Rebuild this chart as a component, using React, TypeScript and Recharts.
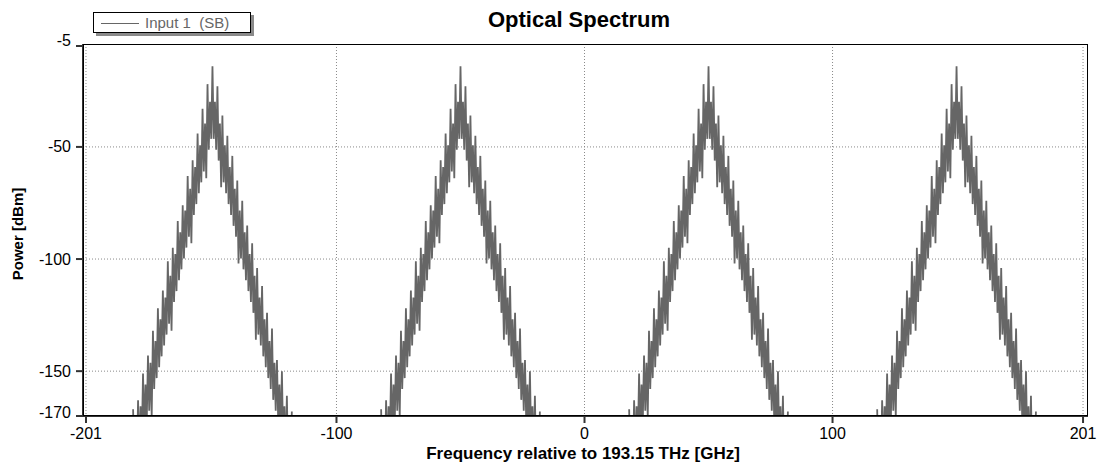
import React from 'react';
import { LineChart, Line, XAxis, YAxis, CartesianGrid } from 'recharts';

const FONT = '"Liberation Sans", Arial, sans-serif';

// channel centre frequencies (GHz, relative to 193.15 THz)
const peakCenters = [-150, -50, 50, 150];

// frequency offsets from each centre (GHz)
const peakOffsets = [
  -32, -31.5, -31, -30.5, -30, -29.5, -29, -28.5, -28, -27.5, -27, -26.5, -26, -25.5, -25, -24.5,
  -24, -23.5, -23, -22.5, -22, -21.5, -21, -20.5, -20, -19.5, -19, -18.5, -18, -17.5, -17, -16.5,
  -16, -15.5, -15, -14.5, -14, -13.5, -13, -12.5, -12, -11.5, -11, -10.5, -10, -9.5, -9, -8.5,
  -8, -7.5, -7, -6.5, -6, -5.5, -5, -4.5, -4, -3.5, -3, -2.5, -2, -1.5, -1, -0.5,
  0,
  0.5, 1, 1.5, 2, 2.5, 3, 3.5, 4, 4.5, 5, 5.5, 6, 6.5, 7, 7.5, 8,
  8.5, 9, 9.5, 10, 10.5, 11, 11.5, 12, 12.5, 13, 13.5, 14, 14.5, 15, 15.5, 16,
  16.5, 17, 17.5, 18, 18.5, 19, 19.5, 20, 20.5, 21, 21.5, 22, 22.5, 23, 23.5, 24,
  24.5, 25, 25.5, 26, 26.5, 27, 27.5, 28, 28.5, 29, 29.5, 30, 30.5, 31, 31.5, 32,
];

const peakPower = [
  -167, -196.8, -175.4, -191.9, -163, -187.1, -165.7, -182.2, -151, -177.4, -156, -172.5, -143, -167.7, -146.3, -170,
  -132, -158, -136.6, -153.1, -122, -148.3, -126.9, -143.4, -114, -138.6, -117.2, -133.7, -101, -128.9, -107.5, -132,
  -95, -119.2, -97.8, -114.3, -83, -109.5, -88.1, -104.6, -76, -99.8, -78.4, -94.9, -63, -90.1, -68.7, -93,
  -56, -80.4, -59, -75.5, -44, -70.7, -49.3, -65.8, -33, -61, -39.6, -64, -22, -51.3, -29.9, -46.4,
  -14,
  -46.4, -29.9, -51.3, -23, -56.1, -39.6, -68, -36, -65.8, -49.3, -70.7, -45, -75.5, -59, -80.4, -54,
  -85.2, -68.7, -90.1, -65, -102, -78.4, -99.8, -74, -104.6, -88.1, -109.5, -85, -114.3, -97.8, -119.2, -93,
  -124, -107.5, -136, -104, -133.7, -117.2, -138.6, -112, -143.4, -126.9, -148.3, -124, -153.1, -136.6, -158, -131,
  -162.8, -146.3, -167.7, -145, -172.5, -156, -177.4, -150, -182.2, -165.7, -187.1, -161, -191.9, -175.4, -196.8, -168,
];

const xTicks = [-201, -100, 0, 100, 201];
const yTicks = [-5, -50, -100, -150, -170];

const data: { f: number; p: number | null }[] = [];
peakCenters.forEach((c) => {
  peakOffsets.forEach((o, i) => data.push({ f: c + o, p: peakPower[i] }));
  data.push({ f: c + 40, p: null });
});

const YTick = (props: any) => {
  const { x, y, payload } = props;
  const nudge = payload.value === -5 ? -6 : payload.value === -170 ? -4 : 0;
  return (
    <text x={x} y={y + nudge} textAnchor="end" dominantBaseline="central" fill="#000" fontSize={16} fontFamily={FONT}>
      {payload.value}
    </text>
  );
};

export default function App() {
  return (
    <div style={{ position: 'absolute', left: 0, top: 0, width: 1100, height: 463, background: '#fff', fontFamily: FONT }}>
      <LineChart width={1100} height={463} data={data} margin={{ top: 44, right: 12, bottom: 17, left: 20 }}>
        <CartesianGrid stroke="#8a8a8a" strokeDasharray="1 2" horizontalValues={[-50, -100, -150]} verticalValues={xTicks} />
        <XAxis
          dataKey="f"
          type="number"
          domain={[-202.2, 203]}
          ticks={xTicks}
          allowDataOverflow
          height={30}
          tickSize={7}
          tickMargin={5}
          stroke="#333"
          strokeWidth={2}
          tick={{ fill: '#000', fontSize: 16, fontFamily: FONT }}
        />
        <YAxis
          type="number"
          domain={[-170, -4.1]}
          ticks={yTicks}
          allowDataOverflow
          width={63}
          tickSize={7}
          tickMargin={5}
          stroke="#333"
          strokeWidth={2}
          tick={<YTick />}
        />
        <Line
          dataKey="p"
          type="linear"
          stroke="#666666"
          strokeWidth={1.8}
          dot={false}
          activeDot={false}
          isAnimationActive={false}
        />
      </LineChart>

      {/* plot frame */}
      <div style={{ position: 'absolute', left: 83, top: 44, width: 1005, height: 372, border: '1px solid #000', boxSizing: 'border-box', pointerEvents: 'none' }} />

      <div style={{ position: 'absolute', left: 429, top: 9, width: 300, textAlign: 'center', fontSize: 22, lineHeight: '22px', fontWeight: 'bold' }}>
        Optical Spectrum
      </div>

      <div style={{ position: 'absolute', left: 383, top: 445, width: 400, textAlign: 'center', fontSize: 17, lineHeight: '17px', fontWeight: 'bold' }}>
        Frequency relative to 193.15 THz [GHz]
      </div>

      <div style={{ position: 'absolute', left: 17.5 - 100, top: 234 - 8, width: 200, textAlign: 'center', fontSize: 15, lineHeight: '16px', fontWeight: 'bold', transform: 'rotate(-90deg)' }}>
        Power [dBm]
      </div>

      {/* legend */}
      <div style={{ position: 'absolute', left: 93, top: 12, width: 158, height: 21, border: '1px solid #000', background: '#fff', boxSizing: 'border-box', boxShadow: '3px 3px 0 #8a8a8a' }}>
        <div style={{ position: 'absolute', left: 7, top: 10, width: 38, height: 1, background: '#666' }} />
        <div style={{ position: 'absolute', left: 51, top: 1, fontSize: 15, lineHeight: '17px', color: '#666', whiteSpace: 'pre' }}>
          {'Input 1  (SB)'}
        </div>
      </div>
    </div>
  );
}
